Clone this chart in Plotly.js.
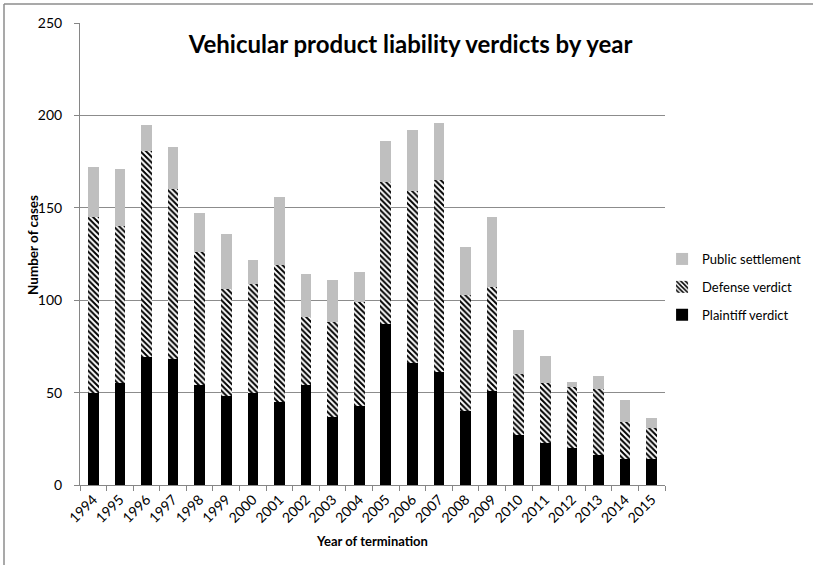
<!DOCTYPE html>
<html>
<head>
<meta charset="utf-8">
<script src="https://cdn.plot.ly/plotly-3.0.1.min.js"></script>
<style>
  html, body { margin: 0; padding: 0; background: #fff; overflow: hidden; }
  #chart { width: 813px; height: 565px; }
</style>
</head>
<body>
<div id="chart"></div>
<script>
const years = ['1994','1995','1996','1997','1998','1999','2000','2001','2002','2003','2004',
               '2005','2006','2007','2008','2009','2010','2011','2012','2013','2014','2015'];
const plaintiffVerdict = [50,55,69,68,54,48,50,45,54,37,43,87,66,61,40,51,27,23,20,16,14,14];
const defenseVerdict   = [95,85,112,92,72,58,59,74,37,51,56,77,93,104,63,56,33,32,33,36,20,17];
const publicSettlement = [27,31,14,23,21,30,13,37,23,23,16,22,33,31,26,38,24,15,3,7,12,5];

const fontFam = 'Lato, "Open Sans", sans-serif';

const traces = [
  {
    type: 'bar', name: 'Plaintiff verdict', x: years, y: plaintiffVerdict,
    legendgroup: 'c', legendrank: 3,
    marker: { color: '#000000', line: { width: 0 } }
  },
  {
    type: 'bar', name: 'Defense verdict', x: years, y: defenseVerdict,
    legendgroup: 'b', legendrank: 2,
    marker: {
      color: '#ffffff', line: { width: 0 },
      pattern: { shape: '\\', fgcolor: '#000000', bgcolor: '#ffffff', size: 4, solidity: 0.5 }
    }
  },
  {
    type: 'bar', name: 'Public settlement', x: years, y: publicSettlement,
    legendgroup: 'a', legendrank: 1,
    marker: { color: '#bfbfbf', line: { width: 0 } }
  }
];

const layout = {
  width: 813, height: 565,
  margin: { l: 80, r: 148, t: 23, b: 80, autoexpand: false },
  paper_bgcolor: '#ffffff', plot_bgcolor: '#ffffff',
  barmode: 'stack', bargap: 0.6,
  font: { family: fontFam, color: '#000000', size: 12 },
  title: {
    text: '<b>Vehicular product liability verdicts by year</b>',
    font: { family: fontFam, size: 24, color: '#000000' },
    x: 0.505, xref: 'container', xanchor: 'center',
    y: 1 - 45 / 565, yref: 'container', yanchor: 'middle'
  },
  xaxis: {
    type: 'category',
    tickangle: -45,
    ticks: 'outside', ticklen: 5, tickcolor: '#868686', tickson: 'boundaries',
    showline: true, linecolor: '#868686', linewidth: 1,
    showgrid: false,
    tickfont: { family: fontFam, size: 14 },
    title: { text: '<b>Year of termination</b>', font: { family: fontFam, size: 13 }, standoff: 12 }
  },
  yaxis: {
    range: [0, 250], dtick: 50,
    ticks: 'outside', ticklen: 5, tickcolor: '#868686',
    ticklabelstandoff: 9,
    showline: true, linecolor: '#868686', linewidth: 1,
    showgrid: true, gridcolor: '#8c8c8c', gridwidth: 1,
    zeroline: false,
    tickfont: { family: fontFam, size: 14 }
  },
  annotations: [
    { text: '<b>Number of cases</b>', xref: 'paper', yref: 'paper',
      x: (33 - 80) / 585, y: (485 - 245) / 462, xanchor: 'center', yanchor: 'middle',
      textangle: -90, showarrow: false, font: { family: fontFam, size: 13.5, color: '#000000' } }
  ],
  legend: {
    x: 0.995, xanchor: 'left', y: (485 - 287) / 462, yanchor: 'middle',
    traceorder: 'grouped', tracegroupgap: 8,
    font: { family: fontFam, size: 13 },
    bgcolor: 'rgba(0,0,0,0)', itemwidth: 30
  },
  shapes: [
    { type: 'line', xref: 'paper', yref: 'paper',
      x0: (4 - 80) / 585, x1: (4 - 80) / 585,
      y0: (485 - 580) / 462, y1: (485 - 4) / 462,
      line: { color: '#8c8c8c', width: 1.5 }, layer: 'below' },
    { type: 'line', xref: 'paper', yref: 'paper',
      x0: (4 - 80) / 585, x1: (830 - 80) / 585,
      y0: (485 - 4) / 462, y1: (485 - 4) / 462,
      line: { color: '#8c8c8c', width: 1.5 }, layer: 'below' }
  ],
  showlegend: true
};

Plotly.newPlot('chart', traces, layout, { displayModeBar: false, staticPlot: true });
</script>
</body>
</html>
